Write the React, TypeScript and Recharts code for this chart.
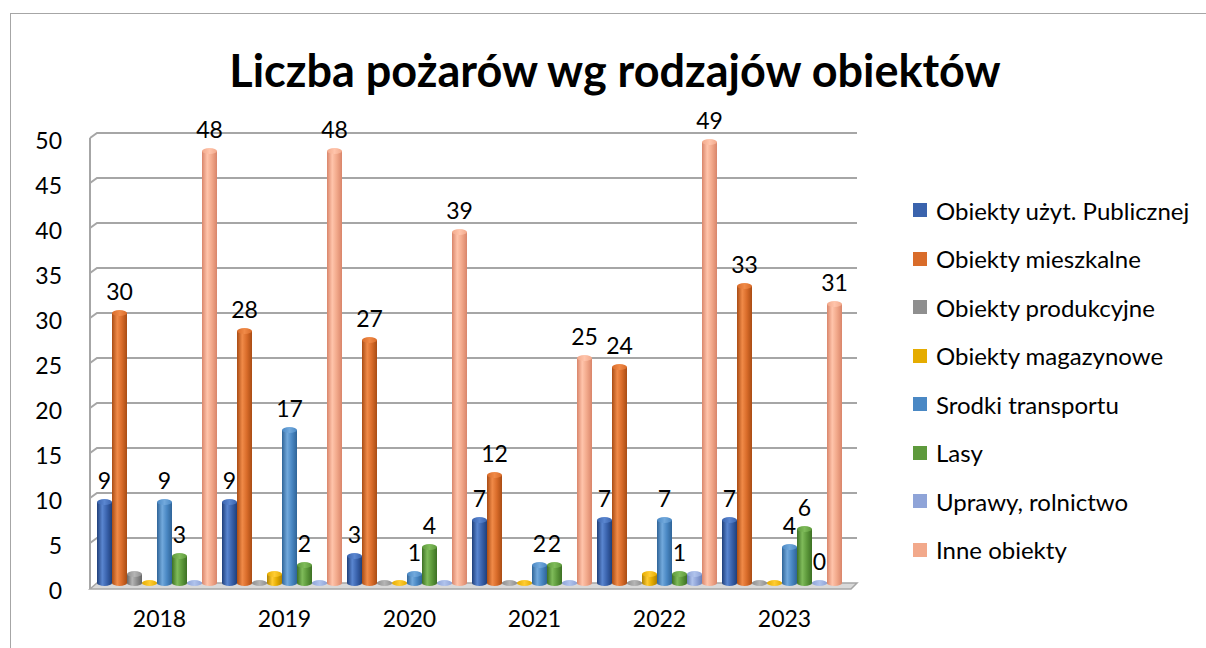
import React from "react";
import { BarChart, Bar, XAxis, YAxis, CartesianGrid, LabelList } from "recharts";

const years = ["2018", "2019", "2020", "2021", "2022", "2023"];
const publiczne = [9, 9, 3, 7, 7, 7];
const mieszkalne = [30, 28, 27, 12, 24, 33];
const produkcyjne = [1, 0, 0, 0, 0, 0];
const magazynowe = [0, 1, 0, 0, 1, 0];
const transport = [9, 17, 1, 2, 7, 4];
const lasy = [3, 2, 4, 2, 1, 6];
const uprawy = [0, 0, 0, 0, 1, 0];
const inne = [48, 48, 39, 25, 49, 31];
const yTicks = [0, 5, 10, 15, 20, 25, 30, 35, 40, 45, 50];

const series = [
  { key: "pub", name: "Obiekty użyt. Publicznej", values: publiczne, color: "#3a63ad", dark: "#1f3f7a", light: "#5a86d0", labels: "all" },
  { key: "mie", name: "Obiekty mieszkalne", values: mieszkalne, color: "#d96c2a", dark: "#a94c14", light: "#f08a48", labels: "all" },
  { key: "pro", name: "Obiekty produkcyjne", values: produkcyjne, color: "#8f8f8f", dark: "#666666", light: "#b5b5b5", labels: "none" },
  { key: "mag", name: "Obiekty magazynowe", values: magazynowe, color: "#e5ac00", dark: "#b08200", light: "#ffcc33", labels: "none" },
  { key: "tra", name: "Srodki transportu", values: transport, color: "#4a88c4", dark: "#2f6498", light: "#72a9dc", labels: "all" },
  { key: "las", name: "Lasy", values: lasy, color: "#5e9a3c", dark: "#3d7024", light: "#7fbb5a", labels: "all" },
  { key: "upr", name: "Uprawy, rolnictwo", values: uprawy, color: "#8fa4d8", dark: "#6a80b8", light: "#b0c3ec", labels: "last" },
  { key: "inn", name: "Inne obiekty", values: inne, color: "#f2a98b", dark: "#d9856a", light: "#ffc4ab", labels: "all" },
];

const data = years.map((y, i) => {
  const row: any = { year: y };
  series.forEach((s) => (row[s.key] = s.values[i]));
  return row;
});

const FONT = "Lato, 'Open Sans', sans-serif";
const PLOT_BOTTOM = 583;
const PLOT_TOP = 133;
const FS = 23;
const DEPTH_SHIFT = -3;

const Cylinder = (props: any) => {
  const { y, width, height, sid } = props;
  if (props.x == null || y == null) return null;
  const x = props.x + DEPTH_SHIFT;
  const ry = 3;
  const h = Math.max(0, height || 0);
  const cx = x + width / 2;
  const base = y + h;
  return (
    <g>
      {h > 0 && (
        <path
          d={`M${x},${y} L${x},${base} A${width / 2},${ry} 0 0 0 ${x + width},${base} L${x + width},${y} Z`}
          fill={`url(#grad-${sid})`}
        />
      )}
      <ellipse cx={cx} cy={y} rx={width / 2} ry={ry} fill={`url(#gradtop-${sid})`} />
    </g>
  );
};

const GridLine = (props: any) => {
  const { x1, x2, y1, index } = props;
  if (Math.abs(y1 - PLOT_BOTTOM) < 1) {
    return (
      <g key={`gl-${index}`}>
        <line x1={90} y1={PLOT_TOP + 5} x2={90} y2={PLOT_BOTTOM + 6} stroke="#a6a6a6" strokeWidth={2} />
        <path
          d={`M${x1},${y1} L${x2},${y1} L${x2 - 6},${y1 + 6} L${x1 - 7},${y1 + 6} Z`}
          fill="#d9d9d9"
          stroke="#a6a6a6"
          strokeWidth={1.5}
        />
      </g>
    );
  }
  return (
    <path
      key={`gl-${index}`}
      d={`M${x1 - 7},${y1 + 5} L${x1},${y1} L${x2},${y1}`}
      fill="none"
      stroke="#a6a6a6"
      strokeWidth={2}
    />
  );
};

const YTick = (props: any) => {
  const { y, payload } = props;
  return (
    <text x={62} y={y + 7} textAnchor="end" dominantBaseline="central" fontFamily={FONT} fontSize={FS} fill="#000">
      {payload.value}
    </text>
  );
};

const XTick = (props: any) => {
  const { x, payload } = props;
  return (
    <text x={x} y={618} textAnchor="middle" dominantBaseline="central" fontFamily={FONT} fontSize={FS} fill="#000">
      {payload.value}
    </text>
  );
};

const makeLabel = (mode: string) => (props: any) => {
  const { x, y, width, value, index } = props;
  if (mode === "none") return null;
  if (mode === "last" && index !== years.length - 1) return null;
  return (
    <text
      key={`lb-${index}`}
      x={x + DEPTH_SHIFT + width / 2}
      y={y - 22}
      textAnchor="middle"
      dominantBaseline="central"
      fontFamily={FONT}
      fontSize={FS}
      fill="#000"
    >
      {value}
    </text>
  );
};

const LegendBox = () => (
  <div style={{ position: "absolute", left: 913, top: 186, fontFamily: FONT, fontSize: 24, color: "#000" }}>
    {series.map((s) => (
      <div key={s.key} style={{ display: "flex", alignItems: "center", height: 48.5, whiteSpace: "nowrap" }}>
        <span style={{ display: "inline-block", width: 14, height: 14, background: s.color, marginRight: 9 }} />
        <span>{s.name}</span>
      </div>
    ))}
  </div>
);

export default function App() {
  return (
    <div style={{ position: "absolute", left: 0, top: 0, width: 1206, height: 648, background: "#fff", overflow: "hidden" }}>
      <div style={{ position: "absolute", left: 10, top: 13, width: 1220, height: 660, border: "1px solid #a6a6a6" }} />
      <div
        style={{
          position: "absolute",
          left: 0,
          width: 1230,
          top: 40,
          textAlign: "center",
          fontFamily: FONT,
          fontWeight: 700,
          fontSize: 45,
          color: "#000",
          lineHeight: "60px",
        }}
      >
        Liczba pożarów wg rodzajów obiektów
      </div>
      <div style={{ position: "absolute", left: 0, top: 0 }}>
        <BarChart
          width={1206}
          height={648}
          data={data}
          margin={{ top: PLOT_TOP, right: 349, bottom: 0, left: 0 }}
          barCategoryGap={5}
          barGap={0}
        >
          <defs>
            {series.map((s) => (
              <linearGradient key={s.key} id={`grad-${s.key}`} x1="0" y1="0" x2="1" y2="0">
                <stop offset="0%" stopColor={s.dark} />
                <stop offset="35%" stopColor={s.light} />
                <stop offset="65%" stopColor={s.color} />
                <stop offset="100%" stopColor={s.dark} />
              </linearGradient>
            ))}
            {series.map((s) => (
              <linearGradient key={s.key + "t"} id={`gradtop-${s.key}`} x1="0" y1="0" x2="1" y2="0">
                <stop offset="0%" stopColor={s.color} />
                <stop offset="50%" stopColor={s.light} />
                <stop offset="100%" stopColor={s.color} />
              </linearGradient>
            ))}
          </defs>
          <CartesianGrid vertical={false} horizontal={GridLine as any} />
          <XAxis
            dataKey="year"
            axisLine={false}
            tickLine={false}
            height={65}
            tick={<XTick />}
            interval={0}
            padding={{ left: 0, right: 10 }}
          />
          <YAxis
            width={97}
            domain={[0, 50]}
            ticks={yTicks}
            axisLine={false}
            tickLine={false}
            tick={<YTick />}
            interval={0}
          />
          {series.map((s) => (
            <Bar
              key={s.key}
              dataKey={s.key}
              name={s.name}
              fill={s.color}
              barSize={15}
              isAnimationActive={false}
              shape={(p: any) => <Cylinder {...p} sid={s.key} />}
            >
              <LabelList dataKey={s.key} content={makeLabel(s.labels) as any} />
            </Bar>
          ))}
        </BarChart>
      </div>
      <LegendBox />
    </div>
  );
}
